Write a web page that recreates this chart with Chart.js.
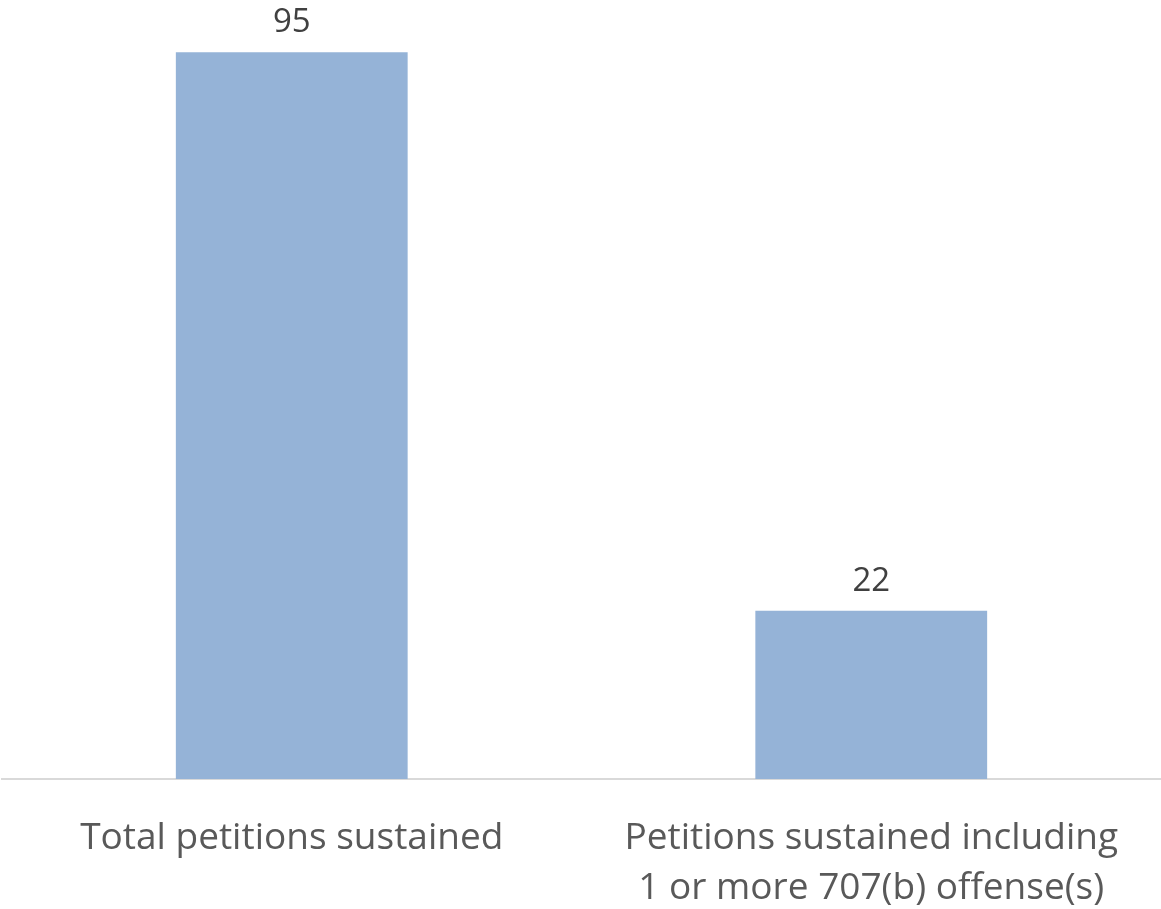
<!DOCTYPE html>
<html>
<head>
<meta charset="utf-8">
<script src="https://cdn.jsdelivr.net/npm/chart.js@4/dist/chart.umd.min.js"></script>
<style>
  html, body { margin: 0; padding: 0; background: #fff; }
  #wrap { width: 1161px; height: 909px; }
</style>
</head>
<body>
<div id="wrap"><canvas id="petitionChart" width="1161" height="909"></canvas></div>
<script>
// chart data
const categories = [
  ['Total petitions sustained'],
  ['Petitions sustained including', '1 or more 707(b) offense(s)']
];
const petitionCounts = [95, 22];

// draws the value above each bar
const valueLabels = {
  id: 'valueLabels',
  afterDatasetsDraw(chart) {
    const ctx = chart.ctx;
    ctx.save();
    ctx.font = '33px "Open Sans"';
    ctx.fillStyle = '#404040';
    ctx.textAlign = 'center';
    ctx.textBaseline = 'alphabetic';
    chart.getDatasetMeta(0).data.forEach((bar, i) => {
      ctx.fillText(petitionCounts[i], bar.x, bar.y - 20);
    });
    ctx.restore();
  }
};

const ctx = document.getElementById('petitionChart').getContext('2d');
new Chart(ctx, {
  type: 'bar',
  data: {
    labels: categories,
    datasets: [{
      data: petitionCounts,
      backgroundColor: '#95B3D7',
      categoryPercentage: 1,
      barPercentage: 0.4
    }]
  },
  options: {
    responsive: false,
    animation: false,
    layout: { padding: { top: 14, left: 2, right: 0, bottom: -30 } },
    plugins: { legend: { display: false }, tooltip: { enabled: false } },
    scales: {
      x: {
        grid: { display: false },
        border: { display: true, color: '#D9D9D9', width: 2 },
        ticks: {
          color: '#595959',
          font: { family: 'Open Sans', size: 37, lineHeight: 1.35 },
          padding: 26,
          maxRotation: 0
        }
      },
      y: {
        display: false,
        min: 0,
        max: 100
      }
    }
  },
  plugins: [valueLabels]
});
</script>
</body>
</html>
